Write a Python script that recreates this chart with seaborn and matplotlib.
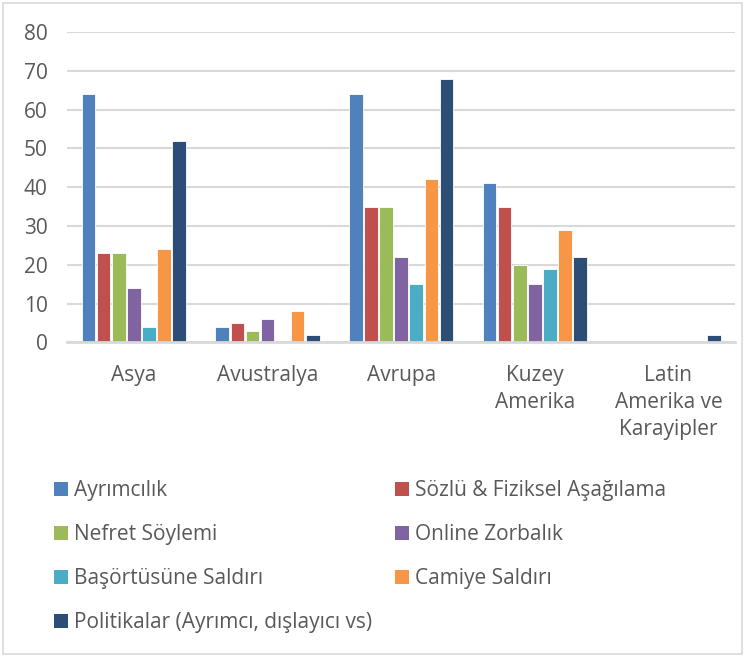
import pandas as pd
import matplotlib.pyplot as plt
import seaborn as sns
from matplotlib.patches import Patch, Rectangle

# Data
regions = ['Asya', 'Avustralya', 'Avrupa', 'Kuzey\nAmerika', 'Latin\nAmerika ve\nKarayipler']
series = ['Ayrımcılık', 'Sözlü & Fiziksel Aşağılama', 'Nefret Söylemi', 'Online Zorbalık',
          'Başörtüsüne Saldırı', 'Camiye Saldırı', 'Politikalar (Ayrımcı, dışlayıcı vs)']
ayrimcilik = [64, 4, 64, 41, 0]
sozlu = [23, 5, 35, 35, 0]
nefret = [23, 3, 35, 20, 0]
online = [14, 6, 22, 15, 0]
basortu = [4, 0, 15, 19, 0]
camiye = [24, 8, 42, 29, 0]
politikalar = [52, 2, 68, 22, 2]
colors = ['#4F81BD', '#C0504D', '#9BBB59', '#8064A2', '#4BACC6', '#F79646', '#2C4D75']

values = [ayrimcilik, sozlu, nefret, online, basortu, camiye, politikalar]
rows = []
for name, vals in zip(series, values):
    for reg, v in zip(regions, vals):
        rows.append({'Bölge': reg, 'Seri': name, 'Değer': v})
df = pd.DataFrame(rows)

sns.set_style('white')
plt.rcParams['font.family'] = ['Open Sans', 'DejaVu Sans']

fig = plt.figure(figsize=(7.45, 6.57), dpi=100)
ax = fig.add_axes([0.09, 0.479, 0.897, 0.472])

sns.barplot(data=df, x='Bölge', y='Değer', hue='Seri', order=regions, hue_order=series,
            palette=colors, width=0.79, gap=0.1, saturation=1, legend=False, ax=ax,
            edgecolor='white', linewidth=0.6)

ax.set_ylim(0, 80)
ax.set_yticks(range(0, 81, 10))
ax.yaxis.grid(True, color='#D9D9D9', linewidth=1.5)
ax.set_axisbelow(True)
ax.set_xlim(-0.5, 4.5)
for s in ['top', 'right', 'left']:
    ax.spines[s].set_visible(False)
ax.spines['bottom'].set_color('#D9D9D9')
ax.spines['bottom'].set_linewidth(2)
ax.tick_params(axis='both', length=0, labelsize=15, colors='#595959', pad=14)
ax.tick_params(axis='x', pad=16)
for t in ax.get_xticklabels():
    t.set_verticalalignment('top')
    t.set_linespacing(1.4)
ax.set_xlabel('')
ax.set_ylabel('')

# Legend in two columns, row-major like the original
handles = [Patch(facecolor=c, edgecolor='none') for c in colors]
order = [0, 2, 4, 6, 1, 3, 5]
fig.legend([handles[i] for i in order], [series[i] for i in order], ncol=2,
           loc='upper left', bbox_to_anchor=(0.073, 0.269),
           frameon=False, fontsize=15, labelcolor='#595959',
           handlelength=0.65, handleheight=0.65, handletextpad=0.3,
           labelspacing=1.1, columnspacing=1.1, borderaxespad=0, borderpad=0)

# Outer chart border
fig.patches.append(Rectangle((0.004, 0.004), 0.992, 0.992, transform=fig.transFigure,
                             fill=False, edgecolor='#D9D9D9', linewidth=1.2))

plt.savefig('out.png', dpi=100)
